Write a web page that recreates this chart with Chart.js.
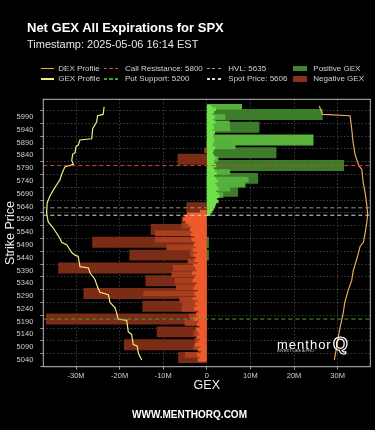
<!DOCTYPE html>
<html><head><meta charset="utf-8">
<script src="https://cdn.jsdelivr.net/npm/chart.js@4.4.1/dist/chart.umd.min.js"></script>
<style>
html,body{margin:0;padding:0;background:#000;}
#wrap{position:relative;width:375px;height:430px;background:#000;overflow:hidden;font-family:'Liberation Sans',Arial,sans-serif;}
canvas{position:absolute;left:0;top:0;}
.t{position:absolute;white-space:nowrap;line-height:1;}
.s{position:absolute;}
</style></head><body>
<div id="wrap">
<canvas id="c" width="375" height="430"></canvas>
<div class="t" style="left:27px;top:21px;font-size:13px;font-weight:bold;color:#fff;">Net GEX All Expirations for SPX</div>
<div class="t" style="left:27px;top:39px;font-size:11px;color:#e6e6e6;">Timestamp: 2025-05-06 16:14 EST</div>
<div id="legend"></div>
<div class="t" style="left:277px;top:337.5px;font-size:13px;letter-spacing:1px;color:#fff;">menthor</div>
<div class="t" style="left:333px;top:333.5px;font-size:19px;font-weight:bold;color:transparent;-webkit-text-stroke:1.2px #fff;">Q</div>
<div class="t" style="left:277px;top:349px;font-size:4px;color:#cfcfcf;">INVEST LIKE A PRO</div>
<div class="t" style="left:132px;top:409.5px;font-size:10px;font-weight:bold;color:#fff;">WWW.MENTHORQ.COM</div>
</div>
<script>
// ---------- DATA (GEX in millions, strikes in index points) ----------
const xTickValues = [-30, -20, -10, 0, 10, 20, 30];
const xTickLabels = ['-30M', '-20M', '-10M', '0', '10M', '20M', '30M'];
const yTickValues = [5040, 5090, 5140, 5190, 5240, 5290, 5340, 5390, 5440, 5490, 5540, 5590, 5640, 5690, 5740, 5790, 5840, 5890, 5940, 5990];

// Negative GEX - large strikes
const negWideStrikes = [5050, 5100, 5150, 5200, 5250, 5300, 5350, 5400, 5450, 5500, 5550, 5580, 5635, 5825];
const negWideValues  = [-6.5, -18.9, -11.4, -36.8, -14.7, -28.2, -14.0, -34.0, -17.7, -26.2, -12.8, -5.7, -4.6, -6.6];
// Negative GEX - intermediate strikes
const negMidStrikes = [5060, 5090, 5115, 5145, 5165, 5185, 5210, 5240, 5260, 5275, 5300, 5325, 5350, 5375, 5400, 5425, 5455, 5480, 5510, 5535, 5565, 5860];
const negMidValues  = [-4.9, -3.0, -2.7, -3.0, -1.5, -5.0, -4.0, -5.7, -5.5, -6.2, -14.5, -7.0, -7.3, -8.0, -7.7, -4.3, -3.8, -9.2, -11.8, -11.8, -5.7, -0.5];
// Negative GEX - fine strikes
const negFineStrikes = [5040, 5050, 5060, 5070, 5080, 5090, 5100, 5110, 5120, 5130, 5140, 5150, 5160, 5170, 5180, 5190, 5200, 5210, 5220, 5230, 5240, 5250, 5260, 5270, 5280, 5290, 5300, 5310, 5320, 5330, 5340, 5350, 5360, 5370, 5380, 5390, 5400, 5410, 5420, 5430, 5440, 5450, 5460, 5470, 5480, 5490, 5500, 5510, 5520, 5530, 5540, 5550, 5560, 5570, 5580, 5590, 5600, 5610, 5620];
const negFineValues  = [-2.0, -1.6, -2.2, -1.3, -2.0, -1.4, -2.6, -2.0, -1.5, -2.3, -1.6, -2.0, -2.4, -1.6, -2.2, -1.8, -3.0, -2.0, -2.4, -1.8, -2.9, -2.2, -2.6, -2.0, -3.1, -2.4, -2.8, -2.0, -3.0, -2.6, -2.2, -3.2, -2.8, -2.4, -3.3, -2.2, -2.6, -3.0, -2.0, -2.8, -2.4, -3.0, -2.2, -3.2, -2.5, -3.0, -2.6, -3.4, -2.8, -3.6, -3.2, -3.8, -3.5, -4.2, -4.8, -5.4, -5.0, -4.5, -1.5];

// Positive GEX - large strikes
const posWideStrikes = [6000, 5950, 5850, 5800, 5750, 5700, 5500, 5450];
const posWideValues  = [26.5, 12.0, 15.9, 31.4, 11.7, 7.1, 0.4, 0.4];
const posBrightStrikes = [5900];
const posBrightValues  = [24.4];
// Positive GEX - intermediate strikes
const posMidStrikes = [6030, 5990, 5965, 5945, 5885, 5875, 5825, 5775, 5745, 5725, 5710, 5685, 5665, 5650];
const posMidValues  = [8.0, 4.2, 5.2, 5.3, 6.5, 6.5, 2.6, 5.3, 9.5, 8.8, 5.3, 3.7, 2.3, 1.5];
// Positive GEX - fine strikes
const posFineStrikes = [5610, 5620, 5630, 5640, 5650, 5660, 5670, 5680, 5690, 5700, 5710, 5720, 5730, 5740, 5750, 5760, 5770, 5780, 5790, 5800, 5810, 5820, 5830, 5840, 5850, 5860, 5870, 5880, 5890, 5900, 5910, 5920, 5930, 5940, 5950, 5960, 5970, 5980, 5990, 6000, 6010, 6020, 6030];
const posFineValues  = [0.8, 1.2, 1.5, 1.8, 2.0, 2.6, 2.2, 2.8, 2.5, 2.0, 2.6, 2.2, 1.8, 2.4, 2.0, 1.6, 2.2, 1.8, 1.5, 2.1, 1.7, 1.4, 1.9, 1.6, 1.3, 1.5, 1.8, 1.2, 1.4, 1.7, 1.3, 1.5, 1.8, 1.2, 1.6, 1.3, 1.9, 1.4, 1.8, 1.2, 1.6, 2.0, 1.0];

// Profiles (relative units, 0-100 across the plot width)
const gexProfileStrikes = [6030, 6000, 5995, 5970, 5945, 5905, 5900, 5880, 5875, 5850, 5845, 5820, 5805, 5795, 5765, 5745, 5725, 5705, 5680, 5655, 5615, 5580, 5555, 5515, 5500, 5490, 5460, 5450, 5445, 5405, 5400, 5380, 5355, 5325, 5305, 5295, 5265, 5245, 5225, 5200, 5195, 5150, 5140, 5100, 5095, 5065, 5040];
const gexProfileValues  = [18.6, 18.3, 16.6, 16.3, 15.1, 14.8, 11.2, 10.7, 10.0, 9.7, 9.0, 8.7, 9.2, 6.6, 5.6, 5.1, 4.1, 3.1, 2.0, 1.2, 1.0, 1.5, 3.1, 5.1, 5.6, 7.2, 8.7, 9.7, 10.7, 11.2, 13.8, 14.3, 15.8, 16.6, 17.3, 19.9, 20.4, 21.9, 22.4, 22.9, 25.5, 26.0, 27.0, 27.5, 28.7, 29.1, 30.1];
const dexProfileStrikes = [6033, 6000, 5995, 5945, 5895, 5845, 5800, 5785, 5735, 5695, 5650, 5610, 5575, 5535, 5500, 5485, 5450, 5410, 5390, 5350, 5315, 5265, 5215, 5165, 5090, 5040];
const dexProfileValues  = [84.4, 85.4, 93.8, 94.3, 94.7, 95.3, 96.5, 97.4, 97.8, 98.4, 98.9, 99.2, 98.9, 98.4, 97.9, 96.9, 96.2, 95.3, 94.8, 94.3, 93.3, 92.2, 91.6, 90.7, 89.7, 89.0];

// Key levels
const levelNames  = ['Call Resistance', 'Put Support', 'HVL', 'Spot Price'];
const levelValues = [5800, 5200, 5635, 5606];

// ---------- STYLE ----------
const DEX_COLOR = '#eba862', GEX_COLOR = '#eeec88';
const LEVEL_COLORS = ['#d8463c', '#4f9a38', '#a09c78', '#d8d8d8'];
const POS_COLOR = '#3f852d', NEG_COLOR = '#8a3318';

const pts = (s, v) => s.map((k, i) => ({ x: v[i], y: k }));
const barDs = (s, v, color, thick, order) => ({
  type: 'bar', data: pts(s, v), backgroundColor: color, borderWidth: 0,
  barThickness: thick, grouped: false, order: order, xAxisID: 'x', yAxisID: 'y'
});
const lineDs = (data, color, width, dash, order) => ({
  type: 'line', data: data, borderColor: color, borderWidth: width, borderDash: dash,
  pointRadius: 0, tension: 0, fill: false, order: order, xAxisID: 'xp', yAxisID: 'y'
});

const datasets = [
  barDs(negWideStrikes, negWideValues, '#7b2c16', 10.3, 10),
  barDs(posWideStrikes, posWideValues, '#3c7c2b', 10.3, 10),
  barDs(posBrightStrikes, posBrightValues, '#58b23c', 10.3, 9),
  barDs(negMidStrikes, negMidValues, '#a83f1f', 5, 8),
  barDs(posMidStrikes, posMidValues, '#56b03c', 5, 8),
  barDs(negFineStrikes, negFineValues, '#ee5a2a', 2.8, 6),
  barDs(posFineStrikes, posFineValues, '#70e04a', 2.8, 6),
  lineDs(pts(gexProfileStrikes, gexProfileValues), GEX_COLOR, 1.2, [], 3),
  lineDs(pts(dexProfileStrikes, dexProfileValues), DEX_COLOR, 1.2, [], 3)
];
levelValues.forEach((lv, i) => {
  datasets.push(lineDs([{ x: 0, y: lv }, { x: 100, y: lv }], LEVEL_COLORS[i], 1, [4, 3], 2));
});

const framePlugin = {
  id: 'frame',
  afterDatasetsDraw(chart) {
    const { ctx, chartArea: a } = chart;
    ctx.save();
    ctx.strokeStyle = '#b8b8b8';
    ctx.lineWidth = 1;
    ctx.strokeRect(a.left, a.top, a.right - a.left, a.bottom - a.top);
    ctx.restore();
  }
};

Chart.defaults.font.family = "'Liberation Sans', Arial, sans-serif";
const gridOpts = { color: 'rgba(255,255,255,0.3)', lineWidth: 0.8, drawTicks: true, tickLength: 3, tickColor: '#bbbbbb', tickWidth: 0.8 };

new Chart(document.getElementById('c'), {
  type: 'bar',
  data: { datasets },
  plugins: [framePlugin],
  options: {
    indexAxis: 'y',
    responsive: false,
    animation: false,
    layout: { padding: { top: 99.3, right: 4.7, bottom: 37, left: 0 } },
    plugins: { legend: { display: false }, tooltip: { enabled: false } },
    scales: {
      x: {
        type: 'linear', position: 'bottom', min: -37.5, max: 37.5,
        afterBuildTicks: s => { s.ticks = xTickValues.map(v => ({ value: v })); },
        afterFit: s => { s.height = 26.3; },
        ticks: { color: '#d0d0d0', font: { size: 7.5 }, padding: 2, maxRotation: 0, autoSkip: false,
          callback: v => { const i = xTickValues.indexOf(v); return i >= 0 ? xTickLabels[i] : ''; } },
        grid: gridOpts,
        border: { display: false, dash: [1.5, 2] },
        title: { display: true, text: 'GEX', color: '#eeeeee', font: { size: 12.5 }, padding: { top: 0, bottom: 0 } }
      },
      xp: { type: 'linear', min: 0, max: 100, display: false },
      y: {
        type: 'linear', position: 'left', min: 5040, max: 6033,
        afterBuildTicks: s => { s.ticks = yTickValues.map(v => ({ value: v })); },
        afterFit: s => { s.width = 43.3; },
        ticks: { color: '#d0d0d0', font: { size: 7.5 }, padding: 7, autoSkip: false, callback: v => String(v) },
        grid: gridOpts,
        border: { display: false, dash: [1.5, 2] },
        title: { display: true, text: 'Strike Price', color: '#eeeeee', font: { size: 12.5 }, padding: { top: 3, bottom: 0 } }
      }
    }
  }
});

// ---------- LEGEND (HTML, columns like the reference) ----------
const legend = document.getElementById('legend');
const legendItems = [
  { text: 'DEX Profile', kind: 'line', color: DEX_COLOR, col: 0, row: 0 },
  { text: 'GEX Profile', kind: 'line', color: GEX_COLOR, col: 0, row: 1 },
  { text: levelNames[0] + ': ' + levelValues[0], kind: 'dash', color: LEVEL_COLORS[0], col: 1, row: 0 },
  { text: levelNames[1] + ': ' + levelValues[1], kind: 'dash', color: LEVEL_COLORS[1], col: 1, row: 1 },
  { text: levelNames[2] + ': ' + levelValues[2], kind: 'dash', color: LEVEL_COLORS[2], col: 2, row: 0 },
  { text: levelNames[3] + ': ' + levelValues[3], kind: 'dash', color: LEVEL_COLORS[3], col: 2, row: 1 },
  { text: 'Positive GEX', kind: 'box', color: POS_COLOR, col: 3, row: 0 },
  { text: 'Negative GEX', kind: 'box', color: NEG_COLOR, col: 3, row: 1 }
];
const sampleX = [41, 104, 207, 293.3], sampleW = [13, 15, 15, 14], textX = [58.3, 125, 228.3, 313.3];
const rowMid = [68.3, 79], rowTextTop = [64.6, 75.3];
legendItems.forEach(it => {
  const s = document.createElement('div');
  s.className = 's';
  s.style.left = sampleX[it.col] + 'px';
  s.style.width = sampleW[it.col] + 'px';
  if (it.kind === 'box') {
    s.style.top = (rowMid[it.row] - 2.7) + 'px';
    s.style.height = '5.4px';
    s.style.background = it.color;
  } else {
    s.style.top = (rowMid[it.row] - 0.6) + 'px';
    s.style.height = '1.2px';
    s.style.background = it.kind === 'line' ? it.color :
      'repeating-linear-gradient(to right,' + it.color + ' 0 3.2px, transparent 3.2px 5.3px)';
  }
  legend.appendChild(s);
  const t = document.createElement('div');
  t.className = 't';
  t.style.left = textX[it.col] + 'px';
  t.style.top = rowTextTop[it.row] + 'px';
  t.style.fontSize = '8px';
  t.style.color = '#d2d2d2';
  t.textContent = it.text;
  legend.appendChild(t);
});
</script>
</body></html>
